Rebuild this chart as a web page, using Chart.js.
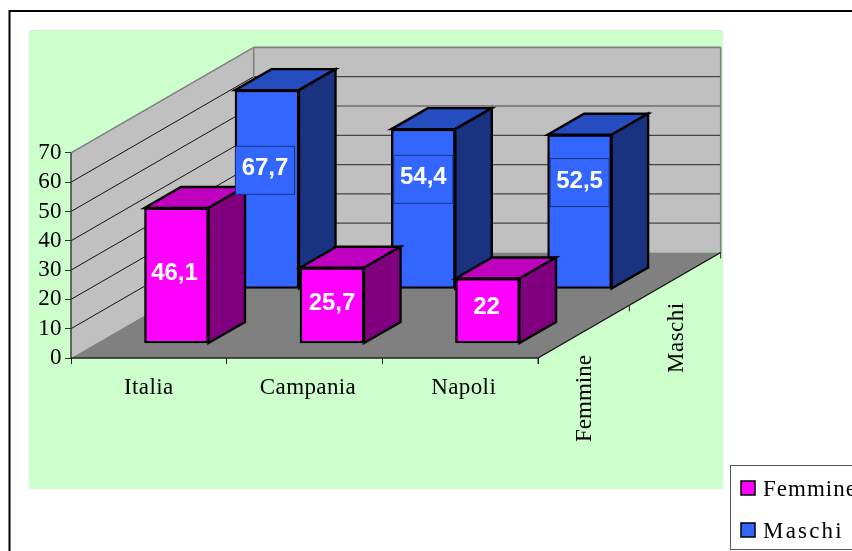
<!DOCTYPE html>
<html>
<head>
<meta charset="utf-8">
<style>
  html, body { margin: 0; padding: 0; background: #fff; overflow: hidden; }
  canvas { display: block; }
</style>
<script src="https://cdn.jsdelivr.net/npm/chart.js@4"></script>
</head>
<body>
<canvas id="chart" width="852" height="551"></canvas>
<script>
// ── Data ──
const categories = ['Italia', 'Campania', 'Napoli'];
const seriesNames = ['Femmine', 'Maschi'];
const femmineValues = [46.1, 25.7, 22];
const maschiValues = [67.7, 54.4, 52.5];
const yTicks = [0, 10, 20, 30, 40, 50, 60, 70];
// category boundaries get a tick mark, the nudged ones in between carry the label
const xTickValues = [-0.5, 0, 0.5, 1.0225, 1.5, 2.0225, 2.5];

// ── Projection of the fake 3D box (pixels) ──
const AREA = { left: 71, right: 721, top: 40, bottom: 358 };
const PX_PER_UNIT = 2.93;
const PX_PER_CAT = 155.67;
const WALL_DX = 182.7, WALL_DY = -105.5;
const BAR_DX = 36.5, BAR_DY = -21;
const SERIF = '"Liberation Serif", serif';
const SANS = '"Liberation Sans", sans-serif';

const COLORS = {
  femmine: { front: '#FF00FF', side: '#800080', top: '#BF00BF' },
  maschi: { front: '#3366FF', side: '#1A3380', top: '#264DBF' }
};

const isBoundary = v => Math.abs(v % 1) === 0.5;

// hidden scales place each row of bars: baseline y and centre x of the first bar
function rowY(baseY) {
  return {
    min: -(AREA.bottom - baseY) / PX_PER_UNIT,
    max: (baseY - AREA.top) / PX_PER_UNIT
  };
}
function rowX(firstX, step) {
  return {
    min: -(firstX - AREA.left) / step,
    max: (AREA.right - firstX) / step
  };
}

function poly(ctx, pts, fill, stroke, lw) {
  ctx.beginPath();
  pts.forEach((p, i) => i ? ctx.lineTo(p[0], p[1]) : ctx.moveTo(p[0], p[1]));
  ctx.closePath();
  if (fill) { ctx.fillStyle = fill; ctx.fill(); }
  if (stroke) { ctx.strokeStyle = stroke; ctx.lineWidth = lw; ctx.stroke(); }
}
function seg(ctx, x1, y1, x2, y2, color, lw) {
  ctx.beginPath();
  ctx.moveTo(x1, y1);
  ctx.lineTo(x2, y2);
  ctx.strokeStyle = color;
  ctx.lineWidth = lw;
  ctx.stroke();
}

/* ════════════════════════════
   WALLS, FLOOR, FRAME
════════════════════════════ */
const boxPlugin = {
  id: 'box',
  // beforeDraw, so the library's ticks and labels land on top of this
  beforeDraw(chart) {
    const { ctx, scales } = chart;
    const y = scales.y;
    const x0 = AREA.left, x1 = scales.x.getPixelForValue(2.5);
    const y0 = y.getPixelForValue(0), y70 = y.getPixelForValue(70);
    ctx.save();

    // outer frame and green plot background
    ctx.fillStyle = '#CCFFCC';
    ctx.fillRect(29, 30, 694, 459);
    ctx.strokeStyle = '#000';
    ctx.lineWidth = 2;
    ctx.strokeRect(9.5, 11, 900, 700);

    // left wall, back wall, floor
    poly(ctx, [[x0, y70], [x0 + WALL_DX, y70 + WALL_DY], [x0 + WALL_DX, y0 + WALL_DY], [x0, y0]], '#C0C0C0');
    poly(ctx, [[x0 + WALL_DX, y70 + WALL_DY], [x1 + WALL_DX, y70 + WALL_DY], [x1 + WALL_DX, y0 + WALL_DY], [x0 + WALL_DX, y0 + WALL_DY]], '#C0C0C0');
    poly(ctx, [[x0, y0], [x1, y0], [x1 + WALL_DX, y0 + WALL_DY], [x0 + WALL_DX, y0 + WALL_DY]], '#808080');

    // grid lines
    yTicks.slice(1, -1).forEach(v => {
      const py = y.getPixelForValue(v);
      seg(ctx, x0, py, x0 + WALL_DX, py + WALL_DY, '#111', 1);
      seg(ctx, x0 + WALL_DX, py + WALL_DY, x1 + WALL_DX, py + WALL_DY, '#444', 1.2);
    });

    // wall edges
    seg(ctx, x0, y70, x0 + WALL_DX, y70 + WALL_DY, '#808080', 1.6);
    seg(ctx, x0 + WALL_DX, y70 + WALL_DY, x1 + WALL_DX, y70 + WALL_DY, '#808080', 1.6);
    seg(ctx, x0 + WALL_DX, y70 + WALL_DY, x0 + WALL_DX, y0 + WALL_DY, '#808080', 1.6);
    seg(ctx, x1 + WALL_DX, y70 + WALL_DY, x1 + WALL_DX, y0 + WALL_DY, '#808080', 1.6);

    // axis lines
    seg(ctx, x0, y70, x0, y0, '#333', 1.4);
    seg(ctx, x0, y0, x1, y0, '#222', 1.4);
    seg(ctx, x1, y0, x1 + WALL_DX, y0 + WALL_DY, '#111', 1.4);

    // depth axis ticks and series names
    [0, 0.5, 1].forEach(t => {
      const px = x1 + WALL_DX * t, py = y0 + WALL_DY * t;
      seg(ctx, px, py, px, py + 6, '#222', 1);
    });
    ctx.fillStyle = '#000';
    ctx.font = '23px ' + SERIF;
    ctx.textAlign = 'left';
    ctx.textBaseline = 'alphabetic';
    seriesNames.forEach((name, i) => {
      ctx.save();
      ctx.translate(i === 0 ? 590.5 : 682.5, i === 0 ? 442 : 373);
      ctx.rotate(-Math.PI / 2);
      ctx.letterSpacing = i === 0 ? '0px' : '0.5px';
      ctx.fillText(name, 0, 0);
      ctx.restore();
    });

    // legend
    ctx.strokeStyle = '#555';
    ctx.lineWidth = 1;
    ctx.strokeRect(730.5, 465.5, 200, 84);
    const swatches = [[COLORS.femmine.front, 481], [COLORS.maschi.front, 523]];
    seriesNames.forEach((name, i) => {
      ctx.fillStyle = swatches[i][0];
      ctx.fillRect(741, swatches[i][1], 14, 14);
      ctx.strokeStyle = '#000';
      ctx.lineWidth = 1.5;
      ctx.strokeRect(741, swatches[i][1], 14, 14);
      ctx.fillStyle = '#000';
      ctx.letterSpacing = i === 0 ? '1px' : '2.2px';
      ctx.fillText(name, 763, swatches[i][1] + 15);
      ctx.letterSpacing = '0px';
    });
    ctx.restore();

    // the reference spaces its axis labels a little wider
    ctx.letterSpacing = '0.4px';
  },

  beforeDatasetsDraw(chart) {
    chart.ctx.letterSpacing = '0px';
  },

  // side and top faces go under the library's own front rectangle
  beforeDatasetDraw(chart, args) {
    const { ctx } = chart;
    const c = args.index === 0 ? COLORS.femmine : COLORS.maschi;
    ctx.save();
    ctx.lineJoin = 'miter';
    args.meta.data.forEach(bar => {
      const l = bar.x - bar.width / 2, r = bar.x + bar.width / 2;
      const t = bar.y, b = bar.base;
      poly(ctx, [[l, t], [r, t], [r + BAR_DX, t + BAR_DY], [l + BAR_DX, t + BAR_DY]], c.top, '#000', 2.4);
      poly(ctx, [[r, t], [r + BAR_DX, t + BAR_DY], [r + BAR_DX, b + BAR_DY], [r, b]], c.side, '#000', 2.4);
    });
    ctx.restore();
  },

  afterDatasetsDraw(chart) {
    const { ctx } = chart;
    // label centre relative to the middle of each bar
    const maschiLift = [-19, -29.5, -29];
    const maschiShift = [-2, 0, 0];
    const femmineLift = [-3, -3, -4];
    const femmineShift = [-2, 0, -1];
    ctx.save();
    ctx.font = 'bold 24px ' + SANS;
    ctx.textAlign = 'center';
    ctx.textBaseline = 'middle';
    [1, 0].forEach(di => {
      chart.getDatasetMeta(di).data.forEach((bar, i) => {
        const v = chart.data.datasets[di].data[i].y;
        const cy = (bar.y + bar.base) / 2 + (di === 1 ? maschiLift[i] : femmineLift[i]);
        const cx = bar.x + (di === 1 ? maschiShift[i] : femmineShift[i]);
        if (di === 1) {
          ctx.fillStyle = COLORS.maschi.front;
          ctx.fillRect(cx - 29.5, cy - 24, 59, 48);
          ctx.strokeStyle = '#1A3380';
          ctx.lineWidth = 1;
          ctx.strokeRect(cx - 29.5, cy - 24, 59, 48);
        }
        ctx.fillStyle = '#fff';
        ctx.fillText(String(v).replace('.', ','), cx, di === 1 ? cy - 1.5 : cy + 1);
      });
    });
    ctx.restore();
  }
};

/* ════════════════════════════
   CHART
════════════════════════════ */
const rowF = rowY(343), rowM = rowY(288.5);
const colF = rowX(176.5, 155.5), colM = rowX(267, 156.3);

new Chart(document.getElementById('chart'), {
  type: 'bar',
  data: {
    datasets: [
      {
        label: seriesNames[0],
        data: femmineValues.map((v, i) => ({ x: i, y: v })),
        xAxisID: 'xF', yAxisID: 'yF',
        backgroundColor: COLORS.femmine.front
      },
      {
        label: seriesNames[1],
        data: maschiValues.map((v, i) => ({ x: i, y: v })),
        xAxisID: 'xM', yAxisID: 'yM',
        backgroundColor: COLORS.maschi.front
      }
    ]
  },
  options: {
    responsive: false,
    animation: false,
    layout: { padding: { left: 0, top: AREA.top, right: 852 - AREA.right, bottom: 0 } },
    plugins: { legend: { display: false }, tooltip: { enabled: false } },
    datasets: {
      bar: {
        barThickness: 64,
        grouped: false,
        borderColor: '#000',
        borderWidth: 2.4,
        borderSkipped: false,
        clip: false
      }
    },
    scales: {
      x: {
        type: 'linear',
        axis: 'x',
        position: 'bottom',
        offset: false,
        min: -0.5,
        max: (AREA.right - AREA.left) / PX_PER_CAT - 0.5,
        afterBuildTicks: s => { s.ticks = xTickValues.map(value => ({ value })); },
        afterFit: s => { s.height = 551 - AREA.bottom; },
        border: { display: false },
        grid: {
          offset: false,
          drawOnChartArea: false,
          tickLength: 6,
          tickColor: c => (c.tick && isBoundary(c.tick.value) ? '#222' : 'transparent')
        },
        ticks: {
          autoSkip: false,
          maxRotation: 0,
          minRotation: 0,
          padding: 10,
          color: '#000',
          font: { family: SERIF, size: 23 },
          callback: v => (isBoundary(v) ? '' : categories[Math.round(v)])
        }
      },
      y: {
        type: 'linear',
        axis: 'y',
        position: 'left',
        min: 0,
        max: (AREA.bottom - AREA.top) / PX_PER_UNIT,
        afterBuildTicks: s => { s.ticks = yTicks.map(value => ({ value })); },
        afterFit: s => { s.width = AREA.left; },
        border: { display: false },
        grid: { drawOnChartArea: false, tickLength: 6, tickColor: '#333' },
        ticks: {
          padding: 3,
          color: '#000',
          font: { family: SERIF, size: 23 }
        }
      },
      xF: { type: 'linear', axis: 'x', display: false, offset: false, min: colF.min, max: colF.max },
      xM: { type: 'linear', axis: 'x', display: false, offset: false, min: colM.min, max: colM.max },
      yF: { type: 'linear', axis: 'y', display: false, min: rowF.min, max: rowF.max },
      yM: { type: 'linear', axis: 'y', display: false, min: rowM.min, max: rowM.max }
    }
  },
  plugins: [boxPlugin]
});
</script>
</body>
</html>
